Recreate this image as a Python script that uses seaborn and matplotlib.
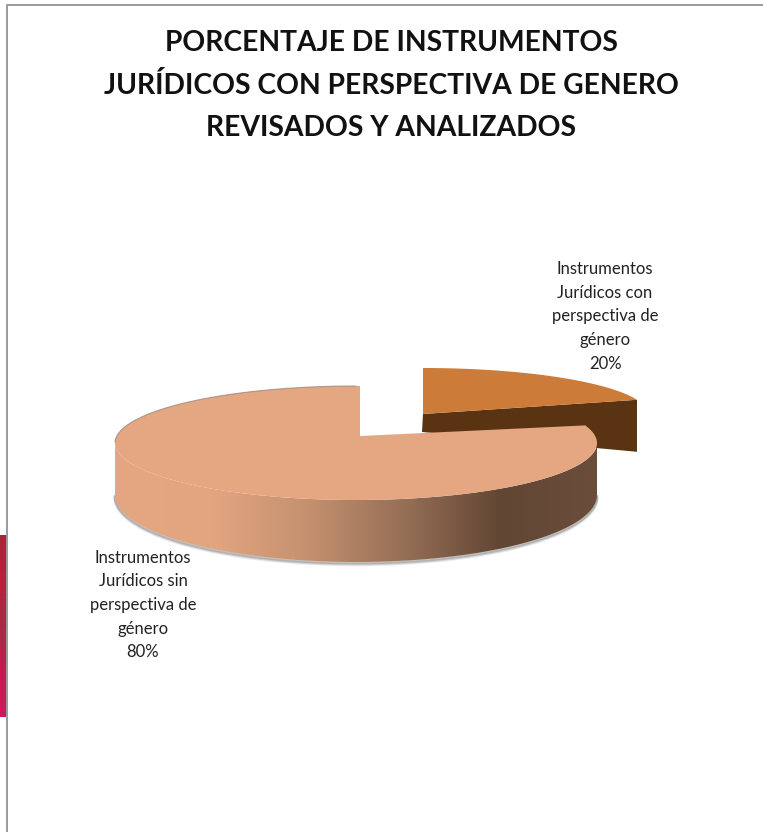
import numpy as np
import matplotlib
matplotlib.use("Agg")
import matplotlib.pyplot as plt
import seaborn as sns
from matplotlib.patches import Polygon

# Data
categories = ["Instrumentos\nJurídicos con\nperspectiva de\ngénero",
              "Instrumentos\nJurídicos sin\nperspectiva de\ngénero"]
shares = [20, 80]
title_lines = ["PORCENTAJE DE INSTRUMENTOS",
               "JURÍDICOS CON PERSPECTIVA DE GENERO",
               "REVISADOS Y ANALIZADOS"]

W, H = 763, 832

sns.set_theme(style="white")
plt.rcParams['font.family'] = ['Lato', 'DejaVu Sans']

fig = plt.figure(figsize=(W / 100, H / 100), dpi=100, facecolor="white")
ax = fig.add_axes([0, 0, 1, 1])


def slice_face(cx, cy, rx, ry, apex, start, stop):
    # angles go clockwise from 12 o'clock, given as fraction of the pie
    t = 2 * np.pi * np.linspace(start, stop, 240)
    arc = np.column_stack([cx + rx * np.sin(t), cy - ry * np.cos(t)])
    return np.vstack([[apex], arc]), arc


total = sum(shares)
small = shares[0] / total

# frame and the crimson strip at the left
ax.plot([7, 7, W], [H, 5, 5], color="#9a9a9a", lw=1.4, zorder=3)
strip = sns.blend_palette(["#ad2336", "#b8213f", "#a92a45", "#c21c50", "#cb1a5c"], as_cmap=True)
ax.imshow(np.linspace(0, 1, 100)[:, None], cmap=strip, extent=(0, 6.5, 717, 535), aspect="auto", zorder=2)

# small slice, pulled away from the big one
face0, arc0 = slice_face(423, 414, 225, 46, (423, 414), 0, small)
xr, yr = arc0[-1]
ax.add_patch(Polygon([(423, 414), (xr, yr), (xr, yr + 52), (422, 432)],
                     closed=True, fc="#5a3312", ec="none", zorder=4))
ax.add_patch(Polygon(face0, closed=True, fc="#cc7c38", ec="none", zorder=5))

# big slice
cx1, cy1, rx1, ry1 = 356, 443, 241, 57
cy2, ry2 = 495, 67
t = np.linspace(0, np.pi, 200)
top_edge = np.column_stack([cx1 - rx1 * np.cos(t), cy1 + ry1 * np.sin(t)])
bot_edge = np.column_stack([cx1 - rx1 * np.cos(t), cy2 + ry2 * np.sin(t)])[::-1]
wall = Polygon(np.vstack([top_edge, bot_edge]), closed=True, fc="none", ec="none", transform=ax.transData)
ax.add_patch(wall)

# soft shadow under the wall
for off, alpha in [(1, 0.45), (2, 0.3), (3, 0.15)]:
    ax.plot(bot_edge[:, 0], bot_edge[:, 1] + off, color="#8a8a8a", lw=2, alpha=alpha, zorder=5.5)
wall_cmap = sns.blend_palette(["#e5a682", "#e3a580", "#c4916f", "#966f56", "#624634", "#6a4d3b"], as_cmap=True)
grad = ax.imshow(np.linspace(0, 1, 256)[None, :], cmap=wall_cmap,
                 extent=(cx1 - rx1, cx1 + rx1, cy2 + ry2, cy1), aspect="auto", zorder=6)
grad.set_clip_path(wall)

face1, arc1 = slice_face(cx1, cy1, rx1, ry1, (360, 436), small, 1)
# the straight cut at the top stands at x=360 in the picture
face1 = np.vstack([face1, [(360, 386)]])
ax.add_patch(Polygon(face1, closed=True, fc="#e5a682", ec="none", zorder=7))
upper = arc1[(arc1[:, 0] < cx1) & (arc1[:, 1] < cy1)]
ax.plot(upper[:, 0], upper[:, 1], color="#8f8078", lw=0.8, alpha=0.7, zorder=7)

# labels
ax.text(605, 316.5, f"{categories[0]}\n{shares[0]}%", ha="center", va="center",
        fontsize=12, color="#222222", linespacing=1.58, zorder=8)
ax.text(143, 605, f"{categories[1]}\n{shares[1]}%", ha="center", va="center",
        fontsize=12, color="#222222", linespacing=1.58, zorder=8)

# title
for line, y in zip(title_lines, [43, 85, 128]):
    ax.text(391, y, line, ha="center", va="center", fontsize=20.3, fontweight="bold",
            color="#111111", zorder=8)

ax.set_xlim(0, W)
ax.set_ylim(H, 0)
ax.axis("off")
fig.savefig("out.png", dpi=100)
